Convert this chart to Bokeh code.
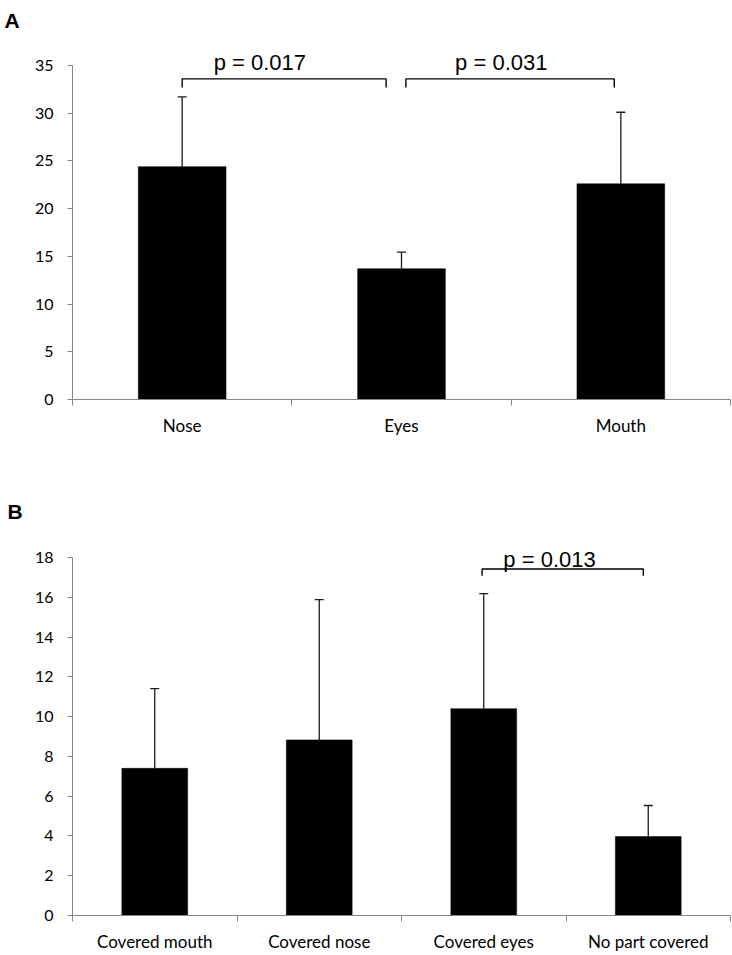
from bokeh.plotting import figure
from bokeh.models import ColumnDataSource, Whisker, TeeHead, FixedTicker, Label, Range1d
from bokeh.layouts import column
from bokeh.embed import file_html
from bokeh.resources import INLINE

# ---------------- Panel A data ----------------
cats_a = ["Nose", "Eyes", "Mouth"]
mean_a = [24.4, 13.7, 22.6]
upper_a = [31.7, 15.45, 30.1]
yticks_a = [0, 5, 10, 15, 20, 25, 30, 35]
ptext_a = ["p = 0.017", "p = 0.031"]
ptext_a_x = [0.854, 1.955]
ptext_a_y = [35.3, 35.3]
brk_a_left = [0.5, 1.52]
brk_a_right = [1.43, 2.47]
brk_a_top = [33.6, 33.6]
brk_a_end = [32.7, 32.7]

# ---------------- Panel B data ----------------
cats_b = ["Covered mouth", "Covered nose", "Covered eyes", "No part covered"]
mean_b = [7.4, 8.83, 10.4, 3.97]
upper_b = [11.41, 15.88, 16.18, 5.53]
yticks_b = [0, 2, 4, 6, 8, 10, 12, 14, 16, 18]
ptext_b = ["p = 0.013"]
ptext_b_x = [2.90]
ptext_b_y = [17.9]
brk_b_left = [2.49]
brk_b_right = [3.47]
brk_b_top = [17.42]
brk_b_end = [17.09]

AXIS_GRAY = "#868686"
TICK_FONT = "Lato"
P_FONT = "Liberation Sans"


def make_panel(cats, means, uppers, yticks, yend, height, top, bottom, letter,
               letter_offset, letter_standoff, ptexts, px, py, bl, br, bt, be):
    n = len(cats)
    p = figure(width=732, height=height, output_backend="svg", toolbar_location=None,
               x_range=Range1d(0, n), y_range=Range1d(0, yend),
               min_border_left=72, min_border_right=2,
               min_border_top=top, min_border_bottom=bottom,
               title=letter)
    p.outline_line_color = None
    p.xgrid.visible = False
    p.ygrid.visible = False
    p.background_fill_color = "white"
    p.border_fill_color = "white"

    p.title.text_font = P_FONT
    p.title.text_font_style = "bold"
    p.title.text_font_size = "21px"
    p.title.text_color = "black"
    p.title.align = "left"
    p.title.offset = letter_offset
    p.title.standoff = letter_standoff

    xs = [i + 0.5 for i in range(n)]
    src = ColumnDataSource(dict(x=xs, mean=means, upper=uppers))
    p.vbar(x="x", top="mean", bottom=0, width=0.4, source=src,
           fill_color="black", line_color="black", line_width=0.5)
    w = Whisker(source=src, base="x", lower="mean", upper="upper",
                line_color="#1a1a1a", line_width=1.3,
                upper_head=TeeHead(size=9, line_color="#1a1a1a", line_width=1.3),
                lower_head=None)
    p.add_layout(w)

    # significance brackets
    bxs = [[l, l, r, r] for l, r in zip(bl, br)]
    bys = [[e, t, t, e] for t, e in zip(bt, be)]
    p.multi_line(xs=bxs, ys=bys, line_color="black", line_width=1.4)
    for t, x, y in zip(ptexts, px, py):
        p.add_layout(Label(x=x, y=y, text=t, text_align="center",
                           text_baseline="alphabetic", text_font=P_FONT,
                           text_font_size="22px", text_color="black"))

    # x axis
    xa = p.xaxis[0]
    xa.ticker = FixedTicker(ticks=xs, minor_ticks=list(range(n + 1)))
    xa.major_label_overrides = {x: c for x, c in zip(xs, cats)}
    xa.major_tick_out = 0
    xa.major_tick_in = 0
    xa.minor_tick_out = 6
    xa.minor_tick_in = 0
    xa.axis_line_color = AXIS_GRAY
    xa.minor_tick_line_color = AXIS_GRAY
    xa.major_label_text_font = TICK_FONT
    xa.major_label_text_font_size = "17px"
    xa.major_label_text_color = "black"
    xa.major_label_standoff = 9

    # y axis
    ya = p.yaxis[0]
    ya.ticker = FixedTicker(ticks=yticks, minor_ticks=[])
    ya.bounds = (yticks[0], yticks[-1])
    ya.major_tick_out = 5
    ya.major_tick_in = 0
    ya.minor_tick_out = 0
    ya.minor_tick_in = 0
    ya.axis_line_color = AXIS_GRAY
    ya.major_tick_line_color = AXIS_GRAY
    ya.major_label_text_font = TICK_FONT
    ya.major_label_text_font_size = "16px"
    ya.major_label_text_color = "black"
    ya.major_label_standoff = 14
    return p


pa = make_panel(cats_a, mean_a, upper_a, yticks_a, 37.93, 490, 36, 91, "A",
                -68, 12, ptext_a, ptext_a_x, ptext_a_y,
                brk_a_left, brk_a_right, brk_a_top, brk_a_end)
pb = make_panel(cats_b, mean_b, upper_b, yticks_b, 19.51, 465, 37, 40, "B",
                -65, 10, ptext_b, ptext_b_x, ptext_b_y,
                brk_b_left, brk_b_right, brk_b_top, brk_b_end)

layout = column(pa, pb, spacing=0)
open("out.html", "w").write(file_html(layout, INLINE))
